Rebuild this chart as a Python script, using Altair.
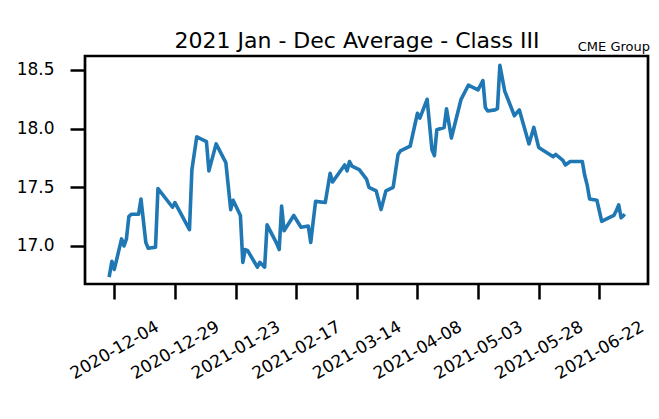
import altair as alt
import pandas as pd

# Traced values (date, price)
dates = [
    "2020-12-02", "2020-12-03", "2020-12-04", "2020-12-07", "2020-12-08", "2020-12-09",
    "2020-12-10", "2020-12-11", "2020-12-14", "2020-12-15", "2020-12-17", "2020-12-18",
    "2020-12-21", "2020-12-22", "2020-12-28", "2020-12-29", "2021-01-04", "2021-01-05",
    "2021-01-07", "2021-01-11", "2021-01-12", "2021-01-15", "2021-01-19", "2021-01-21",
    "2021-01-22", "2021-01-25", "2021-01-26", "2021-01-27", "2021-01-28", "2021-02-01",
    "2021-02-02", "2021-02-03", "2021-02-04", "2021-02-05", "2021-02-08", "2021-02-09",
    "2021-02-10", "2021-02-11", "2021-02-12", "2021-02-16", "2021-02-19", "2021-02-22",
    "2021-02-23", "2021-02-25", "2021-03-01", "2021-03-03", "2021-03-04", "2021-03-09",
    "2021-03-10", "2021-03-11", "2021-03-12", "2021-03-15", "2021-03-18", "2021-03-19",
    "2021-03-22", "2021-03-24", "2021-03-26", "2021-03-29", "2021-03-31", "2021-04-01",
    "2021-04-05", "2021-04-08", "2021-04-09", "2021-04-12", "2021-04-14", "2021-04-15",
    "2021-04-16", "2021-04-19", "2021-04-20", "2021-04-22", "2021-04-26", "2021-04-29",
    "2021-04-30", "2021-05-03", "2021-05-05", "2021-05-06", "2021-05-07", "2021-05-10",
    "2021-05-11", "2021-05-12", "2021-05-14", "2021-05-18", "2021-05-20", "2021-05-24",
    "2021-05-26", "2021-05-28", "2021-06-03", "2021-06-04", "2021-06-07", "2021-06-08",
    "2021-06-10", "2021-06-14", "2021-06-15", "2021-06-16", "2021-06-17", "2021-06-18",
    "2021-06-21", "2021-06-22", "2021-06-23", "2021-06-24", "2021-06-25", "2021-06-28",
    "2021-06-29", "2021-06-30", "2021-07-01", "2021-07-02",
]
values = [
    16.75, 16.87, 16.80, 17.06, 17.00, 17.06,
    17.25, 17.27, 17.27, 17.40, 17.03, 16.98,
    16.99, 17.49, 17.33, 17.37, 17.14, 17.65,
    17.93, 17.89, 17.64, 17.87, 17.71, 17.31,
    17.39, 17.26, 16.86, 16.97, 16.96, 16.82,
    16.86, 16.84, 16.82, 17.18, 17.06, 17.02,
    16.97, 17.34, 17.13, 17.26, 17.16, 17.17,
    17.03, 17.38, 17.37, 17.62, 17.545, 17.69,
    17.64, 17.72, 17.68, 17.65, 17.57, 17.50,
    17.47, 17.31, 17.47, 17.50, 17.78, 17.81,
    17.85, 18.13, 18.09, 18.25, 17.82, 17.77,
    17.99, 18.01, 18.17, 17.92, 18.25, 18.37,
    18.36, 18.33, 18.41, 18.18, 18.15, 18.16,
    18.17, 18.54, 18.32, 18.11, 18.16, 17.87,
    18.01, 17.84, 17.76, 17.78, 17.73, 17.69,
    17.72, 17.72, 17.72, 17.60, 17.52, 17.40,
    17.39, 17.30, 17.21, 17.22, 17.23, 17.26,
    17.30, 17.35, 17.24, 17.26,
]

tick_dates = ["2020-12-04", "2020-12-29", "2021-01-23", "2021-02-17", "2021-03-14",
              "2021-04-08", "2021-05-03", "2021-05-28", "2021-06-22"]
y_ticks = [17.0, 17.5, 18.0, 18.5]
title_text = "2021 Jan - Dec Average - Class III"
source_text = "CME Group"

def ms(s):
    return int(pd.Timestamp(s, tz="UTC").value // 10**6)

df = pd.DataFrame({"date": dates, "value": values})
src = pd.DataFrame({"t": [source_text]})
ttl = pd.DataFrame({"t": [title_text]})

W, H = 563, 228
FONT = "DejaVu Sans"

x_enc = alt.X(
    "date:T",
    scale=alt.Scale(type="utc", domain=[ms("2020-11-21T22:00:00"), ms("2021-07-12T02:00:00")]),
    axis=alt.Axis(
        title=None,
        values=[ms(d) for d in tick_dates],
        labelExpr="utcFormat(datum.value, '%Y-%m-%d')",
        labelAngle=-30,
        labelAlign="center",
        labelBaseline="middle",
        labelPadding=51,
        labelOverlap=False,
        labelFlush=False,
    ),
)
y_enc = alt.Y(
    "value:Q",
    scale=alt.Scale(domain=[16.676, 18.619], nice=False, zero=False),
    axis=alt.Axis(title=None, values=y_ticks, format=".1f", labelPadding=16),
)

line = alt.Chart(df).mark_line(
    color="#1f77b4", strokeWidth=3.6, strokeJoin="round", strokeCap="square", clip=True
).encode(x=x_enc, y=y_enc)

label = alt.Chart(src).mark_text(
    align="right", baseline="alphabetic", fontSize=13, font=FONT, color="black"
).encode(text="t:N", x=alt.value(W + 2), y=alt.value(-5.3))

title = alt.Chart(ttl).mark_text(
    align="center", baseline="alphabetic", fontSize=22, font=FONT, color="black"
).encode(text="t:N", x=alt.value(W / 2 - 9.5), y=alt.value(-7.7))

chart = alt.layer(line, label, title).properties(
    width=W,
    height=H,
    padding={"left": 77, "top": 48, "right": 3, "bottom": 100},
    autosize=alt.AutoSizeParams(type="none"),
    background="white",
).configure_view(
    stroke="black", strokeWidth=2.7
).configure_axis(
    labelFont=FONT, labelFontSize=17, labelColor="black",
    tickColor="black", tickWidth=2.5, tickSize=15,
    domain=False, grid=False,
)

chart.save("out.html", embed_options={"renderer": "svg", "actions": False})
